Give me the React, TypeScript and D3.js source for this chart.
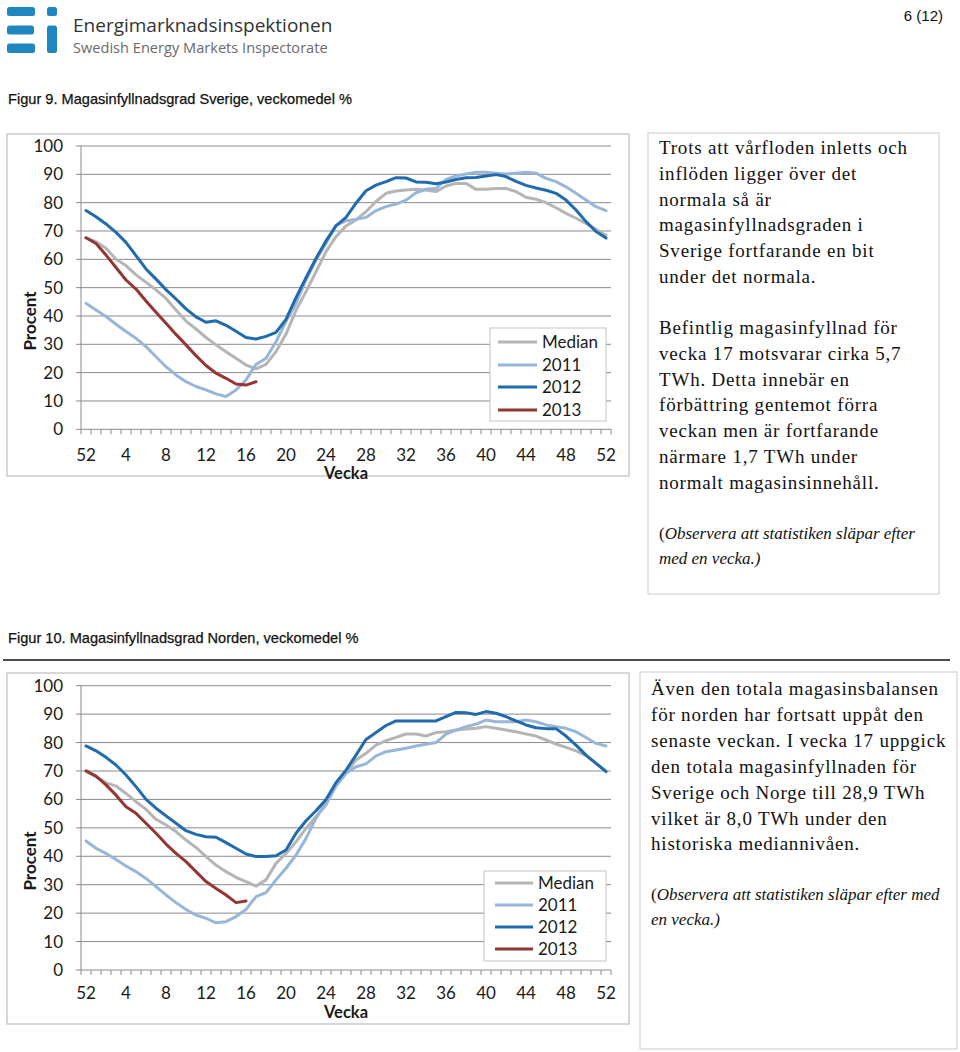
import * as React from 'react';
import * as d3 from 'd3';

// week categories: last week of previous year, then weeks 1..52
const weeks = [52, 1, 2, 3, 4, 5, 6, 7, 8, 9, 10, 11, 12, 13, 14, 15, 16, 17, 18, 19, 20, 21, 22, 23, 24, 25, 26,
    27, 28, 29, 30, 31, 32, 33, 34, 35, 36, 37, 38, 39, 40, 41, 42, 43, 44, 45, 46, 47, 48, 49, 50, 51, 52];
const yTicks = [0, 10, 20, 30, 40, 50, 60, 70, 80, 90, 100];
const seriesNames = ['Median', '2011', '2012', '2013'];
const seriesColors = ['#b5b5b5', '#98b6d8', '#1f6bad', '#943634'];

// Figur 9 - Sverige
const sverigeMedian = [67.6, 66.2, 63.9, 60, 57.8, 54.5, 51.9, 49.2, 46.2, 42.1, 38.2, 35.4, 32.4, 29.8, 27.4, 25.1,
    22.7, 21.3, 22.9, 27.4, 33.6, 42, 48.6, 55.6, 62.7, 68, 71.8, 73.9, 76.8, 80.4, 83.3, 84.1, 84.5, 84.7, 84.5, 83.9,
    85.9, 86.8, 86.8, 84.7, 84.7, 85, 85, 83.9, 81.9, 81.2, 80, 78.2, 76.2, 74.5, 72.7, 70.6, 68.5];
const sverige2011 = [44.5, 42.1, 39.8, 37.1, 34.5, 32.1, 29.2, 25.6, 22.1, 19.2, 16.8, 15.1, 13.9, 12.5, 11.6, 13.9,
    17.4, 22.9, 25.1, 30.9, 38, 44.5, 52.7, 59.8, 65.6, 72.1, 73.6, 74.1, 74.8, 77.2, 78.6, 79.5, 80.9, 83.5, 84.7, 85,
    88.2, 89.4, 90.1, 90.7, 90.7, 90.4, 90.1, 90.4, 90.7, 90.4, 88.6, 87.4, 85.6, 83.3, 80.9, 78.6, 77.2];
const sverige2012 = [77.2, 75, 72.5, 69.5, 66, 61.3, 56.6, 53, 49.3, 46, 42.5, 39.7, 37.8, 38.3, 36.7, 34.6, 32.4,
    31.9, 32.8, 34.2, 38.8, 46.5, 53.5, 60.3, 66.5, 71.8, 74.8, 79.8, 84.2, 86.2, 87.4, 88.8, 88.7, 87.3, 87.2, 86.7,
    87.3, 88.2, 88.8, 88.9, 89.4, 89.9, 89.2, 87.5, 86.1, 85.2, 84.4, 83.3, 80.9, 77.4, 73.3, 69.8, 67.5];
const sverige2013 = [67.6, 65.6, 61.5, 57.1, 52.7, 49.5, 45.3, 41.3, 37.4, 33.5, 29.8, 26, 22.5, 19.8, 18, 16,
    15.6, 16.8];

// Figur 10 - Norden
const nordenMedian = [69.8, 68, 65.9, 64.7, 62.1, 59.2, 56.5, 53, 51, 48.7, 45.7, 43.1, 39.9, 36.9, 34.6, 32.6, 31.1,
    29.5, 31.7, 37.5, 41, 45.1, 49.8, 53.9, 58, 64.7, 69.2, 73.9, 76.2, 79.1, 80.7, 81.8, 83, 83, 82.3, 83.5, 83.8, 84.4,
    84.8, 85, 85.6, 85, 84.4, 83.8, 83, 82.3, 80.9, 79.5, 78.3, 77.1, 75.4, 72.7, 70];
const norden2011 = [45.4, 42.8, 41, 38.9, 36.6, 34.6, 32.2, 29.3, 26.4, 23.7, 21.3, 19.3, 18.2, 16.6, 17, 18.8, 21.3,
    25.8, 27.2, 31.7, 35.8, 40.4, 46.3, 53.4, 59, 65.1, 69.2, 71.5, 72.5, 75.3, 76.8, 77.4, 78, 78.8, 79.4, 80, 83, 84.4,
    85.6, 86.5, 87.9, 87.3, 87.3, 87.3, 87.9, 87.3, 86.2, 85.6, 85, 83.8, 81.8, 79.7, 78.8];
const norden2012 = [78.8, 77.1, 74.8, 72.1, 68.6, 64.5, 60, 56.9, 54.2, 51.6, 49, 47.7, 46.9, 46.7, 44.8, 42.8, 40.8,
    39.9, 39.9, 40.2, 42.2, 48.1, 52.5, 56, 60, 65.9, 70.3, 75.6, 81.1, 83.5, 86, 87.6, 87.6, 87.6, 87.6, 87.6, 89.1,
    90.6, 90.5, 89.9, 90.9, 90.3, 89.1, 87.6, 86.2, 85.2, 84.9, 84.9, 82.3, 79.1, 75.6, 72.7, 69.8];
const norden2013 = [70.1, 68.2, 65.1, 61.5, 57.4, 55.1, 51.6, 48.1, 44.3, 41, 38.1, 34.6, 31.1, 28.7, 26.4, 23.7, 24.3];

const text1a = ['Trots att vårfloden inletts och', 'inflöden ligger över det', 'normala så är',
    'magasinfyllnadsgraden i', 'Sverige fortfarande en bit', 'under det normala.'];
const text1b = ['Befintlig magasinfyllnad för', 'vecka 17 motsvarar cirka 5,7', 'TWh. Detta innebär en',
    'förbättring gentemot förra', 'veckan men är fortfarande', 'närmare 1,7 TWh under', 'normalt magasinsinnehåll.'];
const text2 = ['Även den totala magasinsbalansen', 'för norden har fortsatt uppåt den',
    'senaste veckan. I vecka 17 uppgick', 'den totala magasinfyllnaden för', 'Sverige och Norge till 28,9 TWh',
    'vilket är 8,0 TWh under den', 'historiska mediannivåen.'];

const axisFont = 'Lato, "Open Sans", sans-serif';
const serif = '"Liberation Serif", "DejaVu Serif", serif';
const sans = '"Liberation Sans", Arial, sans-serif';

function LineChart(props: any) {
    const {frame, plot, legend, labelY, veckaY, procentY, series} = props;
    const x = d3.scaleBand<number>().domain(d3.range(weeks.length)).range([plot.left, plot.right]);
    const y = d3.scaleLinear().domain([0, 100]).range([plot.bottom, plot.top]);
    const cx = (i: number) => (x(i) as number) + x.bandwidth() / 2;
    const line = d3.line<number>().x((d, i) => cx(i)).y(d => y(d));
    const gridColor = '#8a8a8a';

    return (
        <g>
            <rect x={frame.x} y={frame.y} width={frame.w} height={frame.h} fill="white" stroke="#bdbdbd" strokeWidth={1.2}/>
            {yTicks.map(t => (
                <g key={'g' + t}>
                    <line x1={plot.left - 5} x2={plot.right} y1={y(t)} y2={y(t)} stroke={gridColor} strokeWidth={1}/>
                    <text x={plot.left - 18} y={y(t)} dy="0.35em" textAnchor="end" fontFamily={axisFont}
                          fontSize={17} fill="#1a1a1a">{t}</text>
                </g>
            ))}
            <line x1={plot.left} x2={plot.left} y1={plot.top} y2={plot.bottom} stroke={gridColor} strokeWidth={1}/>
            {d3.range(weeks.length + 1).map(i => {
                const xx = i < weeks.length ? (x(i) as number) : plot.right;
                return <line key={'t' + i} x1={xx} x2={xx} y1={plot.bottom} y2={plot.bottom + 5} stroke={gridColor}/>;
            })}
            {weeks.map((w, i) => i % 4 === 0 ? (
                <text key={'l' + i} x={cx(i)} y={labelY} textAnchor="middle" fontFamily={axisFont} fontSize={17}
                      fill="#1a1a1a">{w}</text>
            ) : null)}
            <text x={(plot.left + plot.right) / 2} y={veckaY} textAnchor="middle" fontFamily={axisFont}
                  fontSize={16.5} fontWeight="bold" fill="#1a1a1a">Vecka</text>
            <text transform={`translate(36,${procentY}) rotate(-90)`} textAnchor="middle" fontFamily={axisFont}
                  fontSize={17} fontWeight="bold" fill="#1a1a1a">Procent</text>
            {series.map((s: number[], k: number) => (
                <path key={'s' + k} d={line(s) as string} fill="none" stroke={seriesColors[k]} strokeWidth={3}
                      strokeLinejoin="round" strokeLinecap="round"/>
            ))}
            <rect x={legend.x} y={legend.y} width={legend.w} height={legend.h} fill="white" stroke="#c4c4c4"/>
            {seriesNames.map((n, k) => (
                <g key={'lg' + k}>
                    <line x1={legend.x1} x2={legend.x2} y1={legend.rows[k]} y2={legend.rows[k]}
                          stroke={seriesColors[k]} strokeWidth={3}/>
                    <text x={legend.tx} y={legend.rows[k]} dy="0.35em" fontFamily={axisFont} fontSize={17}
                          fill="#1a1a1a">{n}</text>
                </g>
            ))}
        </g>
    );
}

function Lines(props: any) {
    const {lines, x, y0, step, size} = props;
    return (
        <g>
            {lines.map((l: string, i: number) => (
                <text key={i} x={x} y={y0 + i * step} fontFamily={serif} fontSize={size} letterSpacing={0.8}
                      fill="#111">{l}</text>
            ))}
        </g>
    );
}

export default function App() {
    const logoBlue = '#1f86bf';
    return (
        <svg width={960} height={1052} viewBox="0 0 960 1052"
             style={{position: 'absolute', left: 0, top: 0, background: 'white'}}>
            <rect width={960} height={1052} fill="white"/>
            {/* logo */}
            <rect x={7} y={7} width={28} height={9} rx={2.5} fill={logoBlue}/>
            <rect x={7} y={25.5} width={27} height={9} rx={2.5} fill={logoBlue}/>
            <rect x={7} y={43.5} width={28} height={9.5} rx={2.5} fill={logoBlue}/>
            <rect x={47} y={7} width={10} height={9} rx={2.5} fill={logoBlue}/>
            <rect x={47} y={25.5} width={10} height={27.5} rx={2.5} fill={logoBlue}/>
            <text x={73} y={32} fontFamily='"Open Sans", sans-serif' fontSize={19} fill="#333">Energimarknadsinspektionen</text>
            <text x={73} y={53} fontFamily='"Open Sans", sans-serif' fontSize={14.6} fill="#6a6a6a">Swedish Energy Markets Inspectorate</text>
            <text x={943} y={21} textAnchor="end" fontFamily={sans} fontSize={15} fill="#111">6 (12)</text>

            <text x={8} y={104} fontFamily={sans} fontSize={14.6} fill="#111" stroke="#111" strokeWidth={0.25}>Figur 9. Magasinfyllnadsgrad Sverige, veckomedel %</text>

            <LineChart
                frame={{x: 7, y: 134, w: 622, h: 342}}
                plot={{left: 81, right: 611, top: 146, bottom: 429.3}}
                legend={{x: 490, y: 328, w: 116, h: 93, rows: [342, 365, 387, 410], x1: 498, x2: 537, tx: 542}}
                labelY={461} veckaY={479} procentY={321}
                series={[sverigeMedian, sverige2011, sverige2012, sverige2013]}
            />

            <rect x={648} y={133} width={291} height={461} fill="none" stroke="#d2d2d2" strokeWidth={1.2}/>
            <Lines lines={text1a} x={659} y0={154.3} step={25.7} size={19}/>
            <Lines lines={text1b} x={659} y0={334.3} step={25.7} size={19}/>
            <text x={659} y={538.5} fontFamily={serif} fontSize={17} fill="#111">(<tspan fontStyle="italic">Observera att statistiken släpar efter</tspan></text>
            <text x={659} y={563.5} fontFamily={serif} fontSize={17} fontStyle="italic" fill="#111">med en vecka.)</text>

            <text x={8} y={643} fontFamily={sans} fontSize={14.6} fill="#111" stroke="#111" strokeWidth={0.25}>Figur 10. Magasinfyllnadsgrad Norden, veckomedel %</text>
            <line x1={3} x2={950} y1={660} y2={660} stroke="#111" strokeWidth={1.5}/>

            <LineChart
                frame={{x: 7, y: 673, w: 622, h: 351}}
                plot={{left: 81, right: 611, top: 685.7, bottom: 970}}
                legend={{x: 484, y: 871, w: 122, h: 90, rows: [883, 905, 927, 949], x1: 495, x2: 533, tx: 538}}
                labelY={999} veckaY={1018} procentY={861}
                series={[nordenMedian, norden2011, norden2012, norden2013]}
            />

            <rect x={640} y={672} width={317} height={377} fill="none" stroke="#d2d2d2" strokeWidth={1.2}/>
            <Lines lines={text2} x={651} y0={695} step={25.9} size={19}/>
            <text x={651} y={900} fontFamily={serif} fontSize={17} fill="#111">(<tspan fontStyle="italic">Observera att statistiken släpar efter med</tspan></text>
            <text x={651} y={925} fontFamily={serif} fontSize={17} fontStyle="italic" fill="#111">en vecka.)</text>
        </svg>
    );
}
